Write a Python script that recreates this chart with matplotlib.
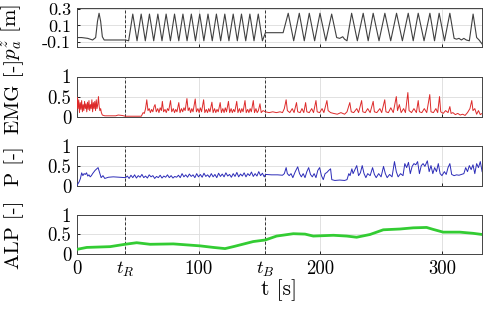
import numpy as np
import matplotlib
matplotlib.use("Agg")
import matplotlib.pyplot as plt

plt.rcParams['font.family'] = 'serif'
plt.rcParams['font.serif'] = ['cmr10']
plt.rcParams['mathtext.fontset'] = 'cm'
plt.rcParams['axes.unicode_minus'] = False
plt.rcParams['axes.formatter.use_mathtext'] = True

# Event times
tR = 40
tB = 155
t_max = 333

# Vertical position p_a^z [m]
pz_t = [0, 4, 9, 13, 15.5, 17, 18.3, 19.6, 21, 22.5, 40, 42.6,
        46.0, 49.5, 52.9, 56.3, 59.7, 63.2, 66.6, 70.0, 73.4, 76.9, 80.3, 83.8,
        87.2, 90.6, 94.1, 97.5, 101.0, 104.4, 107.8, 111.3, 114.7, 118.2, 121.6,
        125.0, 128.5, 131.9, 135.3, 138.8, 142.2, 145.6, 149.1, 152.5, 155, 169.5,
        173.7, 178.2, 182.8, 186.9, 191.0, 195.4, 199.8, 204.6, 209.4, 213.5, 216,
        218.5, 220, 222, 225.8, 230.5, 235.3, 239.4, 243.5, 248.3, 253.1, 257.9,
        262.7, 267.5, 272.3, 276.4, 280.5, 285.3, 290.1, 293.9, 297.7, 302.1, 306.5,
        310, 312, 314, 316, 318, 320, 322.5, 325.6, 328.5, 330.5, 333]
pz_y = [-0.05, -0.05, -0.06, -0.08, -0.05, 0.15, 0.25, 0.15, -0.04, -0.08, -0.08, -0.09,
        0.24, -0.09, 0.24, -0.09, 0.24, -0.09, 0.24, -0.09, 0.24, -0.09, 0.24, -0.09,
        0.24, -0.09, 0.24, -0.09, 0.24, -0.09, 0.24, -0.09, 0.24, -0.09, 0.24,
        -0.09, 0.24, -0.09, 0.24, -0.09, 0.24, -0.09, 0.24, -0.09, 0.01, 0.01,
        0.25, -0.09, 0.25, -0.09, 0.25, -0.09, 0.25, -0.09, 0.24, -0.05, -0.06,
        -0.04, -0.07, -0.09, 0.25, -0.09, 0.25, -0.09, 0.25, -0.09, 0.25, -0.09,
        0.25, -0.09, 0.25, -0.09, 0.25, -0.09, 0.25, -0.09, 0.25, -0.09, 0.25,
        -0.06, -0.07, -0.06, -0.08, -0.06, -0.08, -0.09, 0.24, -0.05, -0.08, -0.13]

# EMG [-]
emg_t = [0, 0.5, 1, 1.6, 2.2, 2.8, 3.4, 4, 4.6, 5.2, 5.8, 6.4, 7, 7.6, 8.2, 8.8, 9.4,
         10, 10.6, 11.2, 11.8, 12.4, 13, 13.6, 14.2, 14.8, 15.4, 16, 16.6, 17.2, 17.8,
         18.4, 19, 19.6, 20.2, 21, 23, 32, 34, 37, 40, 53,
         54.5, 55.5, 56.5, 57.5, 58.5, 59.5, 60.5, 61.5, 62.5, 63.5, 64.3, 65.3, 66.5,
         67.5, 68.5, 69.5, 70.3, 71.3, 72.5, 73.5, 74.5, 75.5, 77, 78, 79.3, 80.3,
         81.3, 82.3, 83.8, 84.8, 86, 87, 88, 89, 90.5, 91.5, 92.5, 93.5, 94.5, 95.5,
         97.3, 98.3, 99.5, 100.5, 101.5, 102.5, 104.2, 105.2, 106.4, 107.4, 108.4,
         109.4, 111, 112, 113.2, 114.2, 115.2, 116.2, 117.8, 118.8, 120, 121, 122,
         123, 124.6, 125.6, 126.8, 127.8, 128.8, 129.8, 131.4, 132.4, 133.6, 134.6,
         135.6, 136.6, 138.2, 139.2, 140.4, 141.4, 142.4, 143.4, 145, 146, 147.2,
         148.2, 149.2, 150.5, 151.5, 153, 155,
         158, 161, 164, 167, 169, 170.5, 172, 173, 175, 177, 178.5, 180.5, 181.5,
         183.5, 185, 186.5, 188, 189, 191, 193, 194.5, 196.5, 197.5, 199.5, 201.5,
         203, 205.5, 206.5, 208.5, 211, 214, 217, 220, 222, 224.3, 225.5, 227.5, 230,
         231.5, 234, 235, 237, 239, 241, 243.5, 244.5, 246.5, 249, 250.5, 253, 254,
         256, 258, 260, 262.5, 263.5, 265, 266.5, 268.5, 270, 272, 273, 275, 277, 279,
         280.5, 281.5, 283.5, 285.5, 287.5, 290, 291, 293, 295, 296.5, 298, 299, 301,
         303, 305, 306.5, 307.5, 309, 311, 313, 315, 317, 319, 321, 323, 324.5, 325.5,
         327, 328.5, 330, 331.5, 333]
emg_y = [0.15, 0.48, 0.2, 0.42, 0.1, 0.35, 0.18, 0.4, 0.12, 0.3, 0.15, 0.38, 0.2, 0.32,
         0.12, 0.36, 0.18, 0.4, 0.15, 0.3, 0.2, 0.42, 0.12, 0.35, 0.2, 0.38, 0.15, 0.42,
         0.2, 0.3, 0.5, 0.25, 0.15, 0.2, 0.1, 0.04, 0.02, 0.02, 0.04, 0.03, 0.01, 0.01,
         0.1, 0.08, 0.2, 0.42, 0.15, 0.2, 0.1, 0.18, 0.12, 0.25, 0.3, 0.12, 0.2,
         0.1, 0.22, 0.15, 0.38, 0.12, 0.18, 0.1, 0.2, 0.15, 0.4, 0.12, 0.2, 0.1,
         0.18, 0.12, 0.35, 0.1, 0.2, 0.12, 0.22, 0.15, 0.45, 0.15, 0.22, 0.1, 0.2, 0.12,
         0.44, 0.12, 0.2, 0.1, 0.22, 0.12, 0.42, 0.1, 0.18, 0.1, 0.2,
         0.12, 0.36, 0.1, 0.2, 0.1, 0.18, 0.12, 0.35, 0.1, 0.2, 0.1, 0.22,
         0.12, 0.38, 0.1, 0.2, 0.1, 0.18, 0.12, 0.38, 0.1, 0.2, 0.1,
         0.2, 0.12, 0.4, 0.1, 0.18, 0.1, 0.2, 0.12, 0.4, 0.1, 0.2,
         0.1, 0.15, 0.32, 0.1, 0.15, 0.12,
         0.1, 0.12, 0.1, 0.12, 0.1, 0.2, 0.42, 0.15, 0.1, 0.2, 0.1, 0.35, 0.12,
         0.1, 0.2, 0.1, 0.35, 0.12, 0.1, 0.2, 0.1, 0.4, 0.12, 0.1, 0.2,
         0.1, 0.4, 0.15, 0.1, 0.08, 0.06, 0.1, 0.06, 0.12, 0.35, 0.12, 0.1, 0.2,
         0.1, 0.4, 0.12, 0.1, 0.2, 0.1, 0.38, 0.12, 0.1, 0.2, 0.1, 0.42, 0.12,
         0.1, 0.22, 0.1, 0.5, 0.15, 0.3, 0.1, 0.2, 0.1, 0.6, 0.15, 0.1, 0.2, 0.1,
         0.4, 0.12, 0.1, 0.2, 0.1, 0.55, 0.12, 0.1, 0.2, 0.1, 0.5, 0.12, 0.08,
         0.15, 0.1, 0.25, 0.08, 0.1, 0.05, 0.08, 0.04, 0.06, 0.03, 0.1, 0.2, 0.4, 0.15,
         0.2, 0.06, 0.15, 0.05, 0.08]

# P [-]
p_t = [0, 1, 2, 3, 4, 5, 6, 7, 8, 9, 10, 11, 12, 13, 15, 17.5, 19, 20, 21.5, 23, 26,
       30, 35, 40,
       41.5, 43, 44.5, 46, 47.5, 49, 50.5, 52, 53.5, 55, 56.5, 58, 59.5, 61, 62.5, 64,
       65.5, 67, 68.5, 70, 71.5, 73, 74.5, 76, 77.5, 79, 80.5, 82, 83.5, 85, 86.5, 88,
       89.5, 91, 92.5, 94, 95.5, 97, 98.5, 100, 101.5, 103, 104.5, 106, 107.5, 109,
       110.5, 112, 113.5, 115, 116.5, 118, 119.5, 121, 122.5, 124, 125.5, 127, 128.5,
       130, 131.5, 133, 134.5, 136, 137.5, 139, 140.5, 142, 143.5, 145, 146.5, 148,
       149.5, 151, 152.5, 154, 155,
       160, 165, 169, 170.5, 172, 173, 174.5, 176, 177.5, 179.5, 181.5, 183, 184.5,
       186, 187.5, 189, 190.5, 192, 193.5, 195, 196.5, 198, 199.5, 201, 202.5, 204,
       205.5, 207, 208.5, 209.5, 212, 216, 220, 222, 223.5, 224.5, 226, 227, 228.5,
       230, 231.5, 233, 234.5, 236, 237.5, 239, 241, 243, 244.5, 246, 248, 250, 252,
       253.5, 255, 257, 259, 261, 262.5, 264, 266, 268, 269.5, 271, 272.5, 274, 275.5,
       277, 278.5, 280, 281.5, 283, 284.5, 286, 288, 289.5, 291, 292.5, 294, 295.5,
       297, 298.5, 300, 302, 303.5, 305, 306.5, 308, 310, 312, 314, 316, 318, 319.5,
       321, 322.5, 324, 325.5, 327, 328.5, 330, 331.5, 333]
p_y = [0.0, 0.05, 0.1, 0.18, 0.32, 0.25, 0.3, 0.28, 0.32, 0.24, 0.27, 0.22, 0.25, 0.3,
       0.38, 0.45, 0.3, 0.2, 0.25, 0.18, 0.21, 0.22, 0.21, 0.2,
       0.24, 0.18, 0.26, 0.2, 0.27, 0.19, 0.25, 0.21, 0.28, 0.2, 0.24, 0.19, 0.27, 0.22,
       0.25, 0.18, 0.23, 0.2, 0.26, 0.19, 0.24, 0.21, 0.27, 0.2, 0.25, 0.19, 0.23, 0.21,
       0.26, 0.2, 0.3, 0.22, 0.27, 0.21, 0.29, 0.23, 0.27, 0.2, 0.3, 0.22, 0.28, 0.21,
       0.31, 0.23, 0.27, 0.21, 0.3, 0.22, 0.28, 0.2, 0.31, 0.23, 0.29, 0.22, 0.32, 0.24,
       0.28, 0.21, 0.3, 0.23, 0.33, 0.22, 0.29, 0.24, 0.32, 0.22, 0.3, 0.25, 0.34, 0.23,
       0.3, 0.24, 0.35, 0.25, 0.31, 0.22, 0.28,
       0.27, 0.27, 0.26, 0.3, 0.45, 0.3, 0.25, 0.3, 0.2, 0.35, 0.47, 0.3, 0.22,
       0.3, 0.2, 0.35, 0.45, 0.28, 0.22, 0.3, 0.2, 0.38, 0.45, 0.25, 0.15, 0.3,
       0.33, 0.38, 0.42, 0.15, 0.13, 0.14, 0.13, 0.15, 0.3, 0.25, 0.42, 0.3, 0.4,
       0.5, 0.25, 0.32, 0.5, 0.3, 0.2, 0.3, 0.25, 0.45, 0.28, 0.2, 0.3, 0.22, 0.48,
       0.3, 0.2, 0.28, 0.22, 0.6, 0.35, 0.22, 0.3, 0.25, 0.55, 0.45, 0.58, 0.3, 0.48,
       0.55, 0.52, 0.6, 0.3, 0.5, 0.55, 0.48, 0.62, 0.35, 0.5, 0.3, 0.45, 0.35,
       0.55, 0.3, 0.25, 0.35, 0.28, 0.45, 0.55, 0.28, 0.25, 0.27, 0.26, 0.28, 0.3, 0.45,
       0.35, 0.5, 0.4, 0.52, 0.3, 0.55, 0.45, 0.6, 0.35]

# ALP [-]
alp_t = [0, 8.2, 27.4, 39.6, 49.2, 60.2, 79.3, 101.2, 112.2, 121.8, 128.6, 145, 154.9,
         164.2, 177.9, 187.5, 194.3, 210.8, 221.7, 229.9, 240.9, 251.8, 265.5, 276.4,
         287.4, 292.8, 301, 314.7, 325.6, 333]
alp_y = [0.12, 0.17, 0.19, 0.25, 0.29, 0.25, 0.26, 0.21, 0.17, 0.14, 0.19, 0.32, 0.36,
         0.46, 0.52, 0.51, 0.46, 0.48, 0.46, 0.43, 0.5, 0.62, 0.64, 0.67, 0.68, 0.63,
         0.56, 0.56, 0.53, 0.5]

x_ticks = [0, tR, 100, tB, 200, 300]
x_labels = ['0', '$t_R$', '100', '$t_B$', '200', '300']

fig = plt.figure(figsize=(4.86, 3.11), dpi=100)
left, width = 0.158, 0.834
boxes = [(0.848, 0.125), (0.625, 0.129), (0.403, 0.129), (0.183, 0.126)]
axs = [fig.add_axes([left, b, width, h]) for b, h in boxes]

series = [(pz_t, pz_y, '#404040', 0.8), (emg_t, emg_y, '#dd2a2a', 0.7),
          (p_t, p_y, '#2c2cb8', 0.7), (alp_t, alp_y, '#33cc33', 2.0)]
ylabels = ['$p_a^z$ [m]', 'EMG [-]', 'P [-]', 'ALP [-]']

for ax, (t, y, c, lw), lab in zip(axs, series, ylabels):
    ax.plot(t, y, color=c, lw=lw, zorder=3, solid_joinstyle='round')
    ax.set_xlim(0, t_max)
    ax.set_xticks(x_ticks)
    ax.grid(True, color='#dcdcdc', lw=0.6)
    for tv in (tR, tB):
        ax.axvline(tv, color='#333333', lw=0.7, ls=(0, (3, 2)), zorder=2)
    ax.tick_params(direction='in', length=2.5, width=0.6, labelsize=13.5, pad=4)
    for s in ax.spines.values():
        s.set_color('#444444')
        s.set_linewidth(0.7)
    ax.set_ylabel(lab, fontsize=15)
    ax.yaxis.set_label_coords(-0.13, 0.5)
    if ax is axs[0]:
        ax.set_ylim(-0.17, 0.31)
        ax.set_yticks([-0.1, 0.1, 0.3])
        ax.set_yticklabels(['-0.1', '0.1', '0.3'])
        ax.tick_params(axis='y', labelsize=13)
        ax.yaxis.set_label_coords(-0.13, 0.4)
    else:
        ax.set_ylim(0, 1)
        ax.set_yticks([0, 0.5, 1])
        ax.set_yticklabels(['0', '0.5', '1'])
    if ax is axs[-1]:
        ax.set_xticklabels(x_labels)
        ax.set_xlabel('t [s]', fontsize=15.5, labelpad=0)
    else:
        ax.set_xticklabels([])

fig.savefig('out.png', dpi=100)
